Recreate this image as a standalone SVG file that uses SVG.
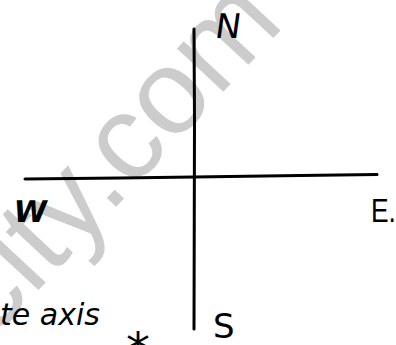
<svg xmlns="http://www.w3.org/2000/svg" width="396" height="345" viewBox="0 0 396 345">
<style>
.ax{stroke:#000;stroke-width:3;fill:none;stroke-linecap:round}
.lbl{font-family:"DejaVu Sans","Liberation Sans",sans-serif;fill:#000}
.wm{font-family:"Liberation Sans",Arial,sans-serif;fill:#cccccc;font-size:120px}
.hand{font-family:"DejaVu Sans","Liberation Sans",sans-serif;font-style:italic;font-weight:300;fill:#000}
</style>
<rect width="396" height="345" fill="#fff"/>
<text class="wm" transform="translate(-8,340) rotate(-47)">city.com</text>
<g id="connectors">
<path class="ax" d="M194,29 L194.5,120 L194,329"/>
<path class="ax" d="M25,179 L120,178 L194,177 L300,175.5 L377,174.5"/>
</g>
<g id="north"><text class="lbl" font-size="34" transform="translate(214,38) skewX(-8)">N</text></g>
<g id="west"><text class="lbl" font-size="30" font-weight="bold" transform="translate(12,222) skewX(-10)">W</text></g>
<g id="east"><text font-family="Liberation Sans, sans-serif" font-size="33" transform="translate(371,222) scale(0.8,1)">E.</text></g>
<g id="south"><text class="lbl" font-size="34" x="213" y="338">S</text></g>
<g id="note"><text class="hand" font-size="30" x="0" y="325">te axis</text>
<text class="lbl" font-size="48" x="126" y="367">*</text></g>
</svg>
